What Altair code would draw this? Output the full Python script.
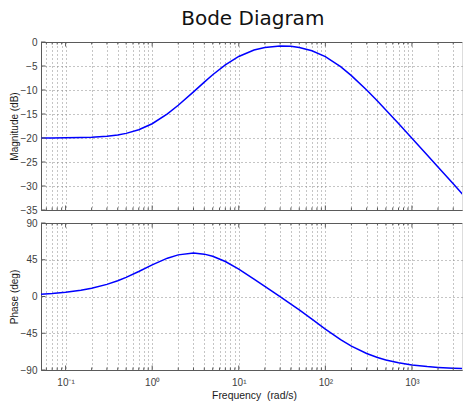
import altair as alt
import pandas as pd

# Frequencies (rad/s) and values
freq = [0.052, 0.07, 0.1, 0.15, 0.2, 0.3, 0.4, 0.5, 0.7, 1, 1.5, 2, 3, 4, 5, 7,
        10, 15, 20, 30, 40, 50, 70, 100, 150, 200, 300, 400, 500, 700, 1000,
        1500, 2000, 3000, 5000]
mag_db = [-20.0, -20.0, -19.96, -19.9, -19.83, -19.63, -19.36, -19.04, -18.29,
          -17.03, -14.98, -13.18, -10.38, -8.35, -6.83, -4.76, -3.01, -1.68,
          -1.13, -0.82, -0.9, -1.14, -1.82, -3.05, -5.14, -7.0, -10.01, -12.3,
          -14.15, -16.99, -20.04, -23.54, -26.03, -29.55, -33.98]
phase_deg = [2.65, 3.56, 5.08, 7.59, 10.05, 14.81, 19.28, 23.42, 30.58, 38.72,
             46.92, 50.98, 53.15, 51.87, 49.26, 42.88, 33.58, 21.35, 12.4, -0.18,
             -9.19, -16.41, -27.68, -39.86, -52.88, -60.86, -69.85, -74.67,
             -77.65, -81.13, -83.78, -85.85, -86.88, -87.92, -88.75]

x_major = [0.1, 1, 10, 100, 1000]
x_labels = ["10\u207b\u00b9", "10\u2070", "10\u00b9", "10\u00b2", "10\u00b3"]
mag_ticks = [0, -5, -10, -15, -20, -25, -30, -35]
phase_ticks = [90, 45, 0, -45, -90]

X_MIN, X_MAX = 0.052, 3787

df = pd.DataFrame({"freq": freq, "mag": mag_db, "phase": phase_deg})

x_minor = [round(k * 10.0 ** n, 6) for n in range(-2, 4) for k in range(1, 10)
           if X_MIN <= k * 10.0 ** n <= X_MAX]
x_minor_only = [v for v in x_minor if v not in x_major]

label_expr = " : ".join(
    f"datum.value == {v} ? '{l}'" for v, l in zip(x_major, x_labels)
) + " : ''"

FONT = "Liberation Sans"
AXC = "#5a5a5a"
GRID = dict(grid=True, gridDash=[1, 3], gridColor="#8a8a8a", gridWidth=1)
AX = dict(domainColor=AXC, domainWidth=1, ticks=False, labelOverlap=False,
          labelFont=FONT, labelFontSize=10, labelColor="#404040",
          titleFont=FONT, titleFontWeight="normal", titleColor="#1a1a1a")

xscale = alt.Scale(type="log", domain=[X_MIN, X_MAX], nice=False)

W = 421


def panel(field, domain, ticks, height, x_axis, y_title):
    yscale = alt.Scale(domain=domain, nice=False)
    y_axis = alt.Axis(values=ticks, title=y_title, labelPadding=4,
                      titlePadding=1, titleFontSize=10, **GRID, **AX)
    line = alt.Chart(df).mark_line(color="#0000ff", strokeWidth=1.5, clip=True).encode(
        x=alt.X("freq:Q", scale=xscale, axis=x_axis),
        y=alt.Y(f"{field}:Q", scale=yscale, axis=y_axis),
    )
    border = alt.Chart(df).mark_rule(color=AXC, strokeWidth=1).encode(
        x=alt.value(0), x2=alt.value(W), y=alt.value(0.5))
    layers = [line, border]
    # inward tick marks on bottom and top edges (minor and major)
    for vals, ln in ((x_minor_only, 2.5), (x_major, 4.5)):
        tdf = pd.DataFrame({"freq": vals})
        for y0, y1 in ((height, height - ln), (0, ln)):
            layers.append(
                alt.Chart(tdf).mark_rule(color=AXC, strokeWidth=1).encode(
                    x=alt.X("freq:Q", scale=xscale, axis=x_axis),
                    y=alt.value(y0), y2=alt.value(y1)))
    # inward tick marks on left edge
    ydf = pd.DataFrame({field: ticks})
    layers.append(
        alt.Chart(ydf).mark_rule(color=AXC, strokeWidth=1).encode(
            y=alt.Y(f"{field}:Q", scale=yscale, axis=y_axis),
            x=alt.value(0), x2=alt.value(4.5)))
    return alt.layer(*layers).properties(width=W, height=height)


top = panel("mag", [-35, 0], mag_ticks, 168,
            alt.Axis(values=x_minor, labels=False, title=None, titleFontSize=10,
                     **GRID, **AX),
            "Magnitude (dB)")
bottom = panel("phase", [-90, 90], phase_ticks, 147,
               alt.Axis(values=x_minor, labelExpr=label_expr, labelPadding=7,
                        labelFlush=False, title="Frequency\u00a0\u00a0(rad/s)",
                        titlePadding=3, titleX=213, titleFontSize=10.4,
                        **GRID, **AX),
               "Phase (deg)")

chart = alt.vconcat(top, bottom, spacing=1).properties(
    title=alt.TitleParams("Bode Diagram", font="DejaVu Sans", fontSize=20,
                          fontWeight="normal", color="#111111", anchor="middle",
                          offset=8, dx=17),
    padding={"left": 0, "top": 0, "right": 0, "bottom": 0},
).configure_view(stroke=None).configure(background="white")

chart.save("out.html", embed_options={"renderer": "svg", "actions": False})
